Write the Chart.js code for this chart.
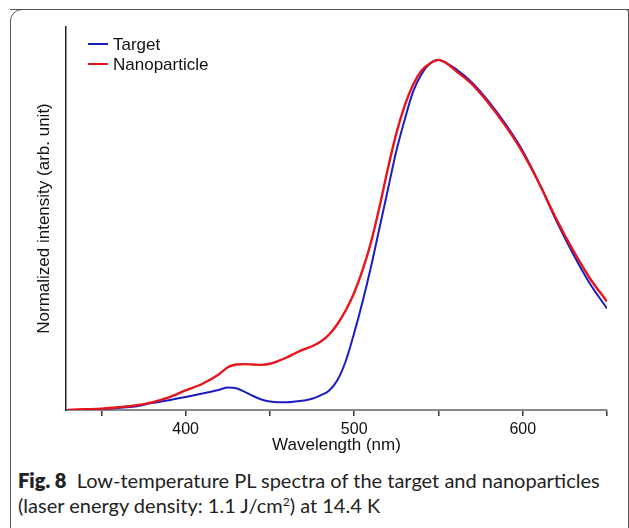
<!DOCTYPE html>
<html>
<head>
<meta charset="utf-8">
<script src="https://cdn.jsdelivr.net/npm/chart.js@4/dist/chart.umd.min.js"></script>
<style>
  html, body { margin: 0; padding: 0; background: #fff; }
  #page { position: relative; width: 629px; height: 528px; overflow: hidden; }
  #frame {
    position: absolute; left: 10px; top: 9px; width: 640px; height: 540px;
    border: 1.5px solid #555; border-radius: 12px; box-sizing: border-box;
  }
  #frame2 {
    position: absolute; left: 10px; top: 9px; width: 619px; height: 540px;
    border-top: 1.5px solid #555; border-right: 1.5px solid #555; border-top-right-radius: 3px;
    box-sizing: border-box;
  }
  #wrap { position: absolute; left: 0; top: 0; width: 629px; height: 460px; }
  #caption {
    position: absolute; left: 18px; top: 468px; width: 610px;
    font-family: Lato, "Noto Sans", sans-serif; font-size: 20px; line-height: 25px; color: #222;
    white-space: nowrap;
  }
  #caption b { font-weight: 800; }
  #caption sup { font-size: 12px; line-height: 0; vertical-align: 7px; }
</style>
</head>
<body>
<div id="page">
  <div id="frame"></div>
  <div id="frame2"></div>
  <div id="wrap"><canvas id="plChart"></canvas></div>
  <div id="caption"><b>Fig. 8</b>&nbsp; Low-temperature PL spectra of the target and nanoparticles<br>(laser energy density: 1.1 J/cm<sup>2</sup>) at 14.4 K</div>
</div>
<script>
// 波長 (nm)
const wavelengths = [330, 340, 350, 360, 370, 380, 390, 400, 410, 420, 425, 430, 435, 440, 445, 450, 455, 460, 465, 470, 475, 480, 485, 490, 495, 500, 505, 510, 515, 520, 525, 530, 535, 540, 545, 550, 555, 560, 570, 580, 590, 600, 610, 620, 630, 640, 650];
// Target PL
const targetValues = [0.0, 0.001, 0.003, 0.006, 0.010, 0.020, 0.028, 0.037, 0.047, 0.058, 0.064, 0.062, 0.052, 0.040, 0.030, 0.024, 0.022, 0.022, 0.024, 0.027, 0.032, 0.042, 0.055, 0.085, 0.14, 0.22, 0.31, 0.41, 0.52, 0.63, 0.74, 0.83, 0.91, 0.96, 0.99, 1.0, 0.99, 0.975, 0.935, 0.88, 0.815, 0.74, 0.645, 0.54, 0.445, 0.36, 0.29];
// Nanoparticle PL
const nanoValues = [0.0, 0.002, 0.004, 0.008, 0.013, 0.022, 0.036, 0.056, 0.075, 0.103, 0.122, 0.130, 0.131, 0.130, 0.129, 0.132, 0.140, 0.150, 0.162, 0.173, 0.182, 0.195, 0.215, 0.245, 0.285, 0.335, 0.40, 0.48, 0.58, 0.69, 0.79, 0.87, 0.93, 0.97, 0.99, 1.0, 0.99, 0.97, 0.93, 0.875, 0.81, 0.735, 0.645, 0.545, 0.455, 0.375, 0.31];
const labeledTicks = [400, 500, 600];
const seriesNames = ['Target', 'Nanoparticle'];
const seriesColors = ['#1c1cc4', '#e8141c'];

const toPoints = (vals) => wavelengths.map((w, i) => ({ x: w, y: vals[i] }));

// 圖例畫在繪圖區內
const innerLegend = {
    id: 'innerLegend',
    afterDraw(chart) {
        const c = chart.ctx;
        c.save();
        c.font = '17px Arial, "Liberation Sans", sans-serif';
        c.textBaseline = 'middle';
        seriesNames.forEach((name, i) => {
            const y = 44 + i * 20;
            c.strokeStyle = seriesColors[i];
            c.lineWidth = 2;
            c.beginPath();
            c.moveTo(88, y);
            c.lineTo(108, y);
            c.stroke();
            c.fillStyle = '#111';
            c.fillText(name, 113, y + 1);
        });
        c.restore();
    }
};

const ctx = document.getElementById('plChart').getContext('2d');
new Chart(ctx, {
    type: 'line',
    data: {
        datasets: [
            {
                label: seriesNames[0],
                data: toPoints(targetValues),
                borderColor: seriesColors[0],
                borderWidth: 2,
                pointRadius: 0,
                cubicInterpolationMode: 'monotone',
                order: 1
            },
            {
                label: seriesNames[1],
                data: toPoints(nanoValues),
                borderColor: seriesColors[1],
                borderWidth: 2.4,
                pointRadius: 0,
                cubicInterpolationMode: 'monotone',
                order: 0
            }
        ]
    },
    options: {
        responsive: true,
        maintainAspectRatio: false,
        animation: false,
        layout: {
            padding: { left: 0, top: 27, right: 22, bottom: 0 }
        },
        plugins: {
            legend: { display: false },
            tooltip: { enabled: false }
        },
        scales: {
            x: {
                type: 'linear',
                min: 329,
                max: 650,
                afterFit: (s) => { s.height = 50; },
                ticks: {
                    stepSize: 50,
                    includeBounds: false,
                    autoSkip: false,
                    maxRotation: 0,
                    padding: 4,
                    color: '#111',
                    font: { family: 'Arial, "Liberation Sans", sans-serif', size: 16 },
                    callback: (v) => labeledTicks.includes(v) ? String(v) : ''
                },
                grid: {
                    drawOnChartArea: false,
                    drawTicks: true,
                    tickLength: 6,
                    color: '#333',
                    lineWidth: 1.5
                },
                border: { color: '#888', width: 2 },
                title: {
                    display: true,
                    text: 'Wavelength (nm)',
                    color: '#111',
                    font: { family: 'Arial, "Liberation Sans", sans-serif', size: 17 },
                    padding: { top: 0, bottom: 4 }
                }
            },
            y: {
                min: 0,
                max: 1.094,
                afterFit: (s) => { s.width = 66; },
                ticks: { display: false },
                grid: { display: true, drawOnChartArea: false, drawTicks: false },
                border: { color: '#222', width: 1.5 },
                title: {
                    display: true,
                    text: 'Normalized intensity (arb. unit)',
                    color: '#111',
                    font: { family: 'Arial, "Liberation Sans", sans-serif', size: 17 },
                    padding: { top: 34, bottom: 0 }
                }
            }
        }
    },
    plugins: [innerLegend]
});
</script>
</body>
</html>
